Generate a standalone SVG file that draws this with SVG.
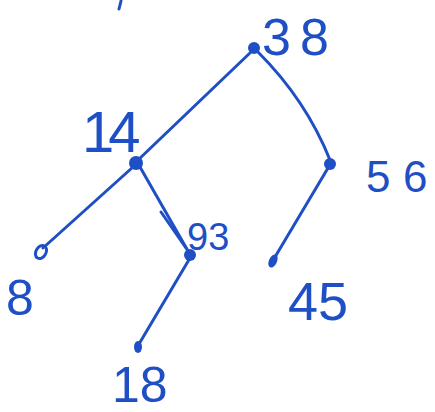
<svg xmlns="http://www.w3.org/2000/svg" width="435" height="412" viewBox="0 0 435 412">
<style>
.e{stroke:#1f4fc4;stroke-width:3;fill:none;stroke-linecap:round}
.d{fill:#1f4fc4}
.t{fill:#1f4fc4;font-family:"Liberation Sans",Arial,sans-serif}
</style>
<rect width="435" height="412" fill="#ffffff"/>
<line x1="121" y1="1" x2="119" y2="9" class="e"/>
<g id="connectors">
<line class="e" x1="251" y1="52" x2="137" y2="161"/>
<path class="e" d="M258,52 Q306,100 330,160"/>
<line class="e" x1="133" y1="167" x2="43" y2="248"/>
<path class="e" stroke-width="4" d="M140,167 L188,251"/>
<path class="e" stroke-width="2" d="M161,212 L186,248"/>
<line class="e" x1="190" y1="258" x2="139" y2="344"/>
<line class="e" x1="328" y1="168" x2="275" y2="257"/>
</g>
<g id="n38"><circle class="d" cx="254" cy="48" r="6"/><text class="t" y="55" font-size="52"><tspan x="262">3</tspan><tspan x="300">8</tspan></text></g>
<g id="n14"><circle class="d" cx="136" cy="163" r="7"/><text class="t" x="82" y="152" font-size="58" letter-spacing="-6">14</text></g>
<g id="n56"><circle class="d" cx="330" cy="164" r="6"/><text class="t" y="192" font-size="44"><tspan x="366">5</tspan><tspan x="403">6</tspan></text></g>
<g id="n8"><ellipse class="e" cx="41" cy="252" rx="5" ry="7" transform="rotate(30 41 252)"/><text class="t" x="6" y="315" font-size="50">8</text></g>
<g id="n93"><circle class="d" cx="190" cy="255" r="6"/><text class="t" x="187" y="250" font-size="38">93</text></g>
<g id="n45"><ellipse class="d" cx="273" cy="261" rx="4" ry="7" transform="rotate(25 273 261)"/><text class="t" x="288" y="320" font-size="54">45</text></g>
<g id="n18"><ellipse class="d" cx="138" cy="347" rx="4" ry="6"/><text class="t" x="112" y="402" font-size="50">18</text></g>
</svg>
